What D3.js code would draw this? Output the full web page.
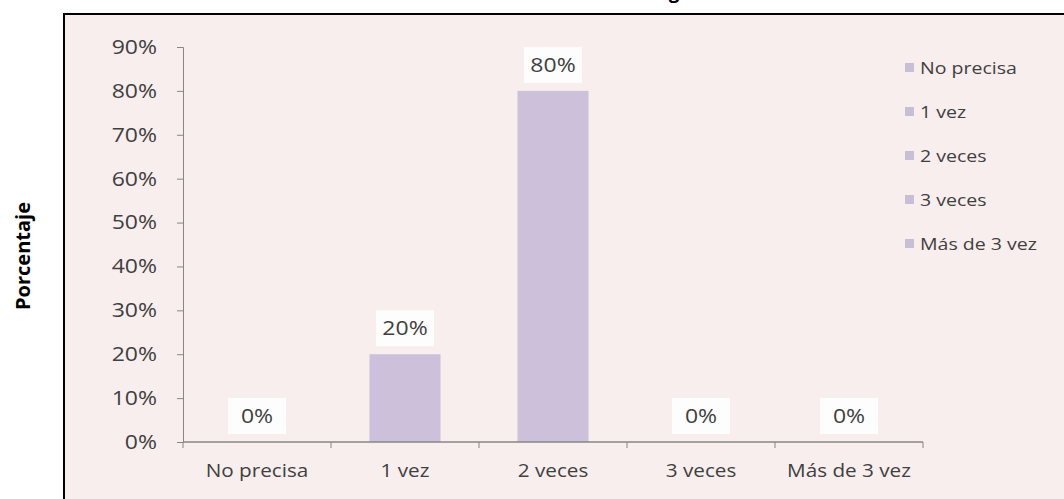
<!DOCTYPE html>
<html>
<head>
<meta charset="utf-8">
<script src="https://cdn.jsdelivr.net/npm/d3@7"></script>
<style>
  html, body { margin: 0; padding: 0; background: #ffffff; }
  svg { display: block; }
  text { font-family: "Open Sans", "Liberation Sans", sans-serif; }
</style>
</head>
<body>
<svg id="chart" width="1064" height="499"></svg>
<script>
// Frequency categories and their share of responses
const categories = ["No precisa", "1 vez", "2 veces", "3 veces", "Más de 3 vez"];
const values = [0, 0.20, 0.80, 0, 0];
const yTicks = [0, 0.1, 0.2, 0.3, 0.4, 0.5, 0.6, 0.7, 0.8, 0.9];
const legendLabels = ["No precisa", "1 vez", "2 veces", "3 veces", "Más de 3 vez"];
const yTitle = "Porcentaje";

const svg = d3.select("#chart");
const fmt = d3.format(".0%");
const textCol = "#404040";
const barCol = "#ccc0da";
const stretch = 1.15;

// Title (only its lower edge falls inside the frame)
svg.append("text")
  .attr("x", 674).attr("y", -2)
  .attr("text-anchor", "middle")
  .attr("font-weight", "bold")
  .attr("font-size", 19)
  .attr("fill", "#000")
  .text("g");

// Chart frame
svg.append("rect")
  .attr("x", 64).attr("y", 14)
  .attr("width", 1020).attr("height", 520)
  .attr("fill", "#f9eeee")
  .attr("stroke", "#000").attr("stroke-width", 2);

// Axis title
svg.append("text")
  .attr("transform", "translate(30,256) rotate(-90)")
  .attr("text-anchor", "middle")
  .attr("font-weight", "bold")
  .attr("font-size", 20)
  .attr("fill", "#000")
  .text(yTitle);

const y = d3.scaleLinear().domain([0, 0.9]).range([442, 47]);
const x = d3.scaleBand().domain(categories).range([183, 923])
  .paddingInner(0.52).paddingOuter(0.26);

// Y axis
const yAxis = svg.append("g")
  .attr("transform", "translate(183,0)")
  .call(d3.axisLeft(y).tickValues(yTicks).tickFormat(fmt).tickSize(6).tickSizeOuter(6));
yAxis.select(".domain").attr("stroke", "#868686");
yAxis.selectAll(".tick line").attr("stroke", "#868686");
yAxis.selectAll(".tick text")
  .attr("font-size", 20).attr("fill", textCol)
  .attr("x", -26 / stretch)
  .attr("transform", `scale(${stretch},1)`);

// Bars
svg.append("g").selectAll("rect")
  .data(categories)
  .join("rect")
  .attr("x", d => x(d))
  .attr("width", x.bandwidth())
  .attr("y", (d, i) => y(values[i]))
  .attr("height", (d, i) => y(0) - y(values[i]))
  .attr("fill", barCol);

// X axis: line, boundary ticks, labels
const step = x.step();
const outer = (step - x.bandwidth()) / 2;
const bounds = categories.map(c => x(c) - outer).concat([x(categories[categories.length - 1]) + x.bandwidth() + outer]);
const xAxis = svg.append("g").attr("transform", `translate(0,${y(0)})`);
xAxis.append("line")
  .attr("x1", bounds[0]).attr("x2", bounds[bounds.length - 1])
  .attr("stroke", "#868686").attr("stroke-width", 1.5);
xAxis.selectAll("line.tk")
  .data(bounds)
  .join("line").attr("class", "tk")
  .attr("x1", d => d).attr("x2", d => d)
  .attr("y1", 0).attr("y2", 6)
  .attr("stroke", "#868686");
xAxis.selectAll("text")
  .data(categories)
  .join("text")
  .attr("transform", d => `translate(${x(d) + x.bandwidth() / 2},35) scale(${stretch},1)`)
  .attr("text-anchor", "middle")
  .attr("font-size", 18)
  .attr("fill", textCol)
  .text(d => d);

// Value labels with light boxes
const lab = svg.append("g").selectAll("g")
  .data(categories)
  .join("g")
  .attr("transform", (d, i) => `translate(${x(d) + x.bandwidth() / 2},${y(values[i]) - 26})`);
lab.append("rect")
  .attr("x", -29).attr("y", -18)
  .attr("width", 58).attr("height", 36)
  .attr("fill", "#ffffff").attr("opacity", 0.85);
lab.append("text")
  .attr("text-anchor", "middle")
  .attr("dy", "0.35em")
  .attr("font-size", 20)
  .attr("fill", textCol)
  .attr("transform", `scale(${stretch},1)`)
  .text((d, i) => fmt(values[i]));

// Legend
const leg = svg.append("g").selectAll("g")
  .data(legendLabels)
  .join("g")
  .attr("transform", (d, i) => `translate(905,${68 + i * 44})`);
leg.append("rect")
  .attr("x", 0).attr("y", -5)
  .attr("width", 9).attr("height", 9)
  .attr("fill", "#c8bed5");
leg.append("text")
  .attr("x", 15 / stretch)
  .attr("dy", "0.35em")
  .attr("font-size", 17)
  .attr("fill", textCol)
  .attr("transform", `scale(${stretch},1)`)
  .text(d => d);
</script>
</body>
</html>
